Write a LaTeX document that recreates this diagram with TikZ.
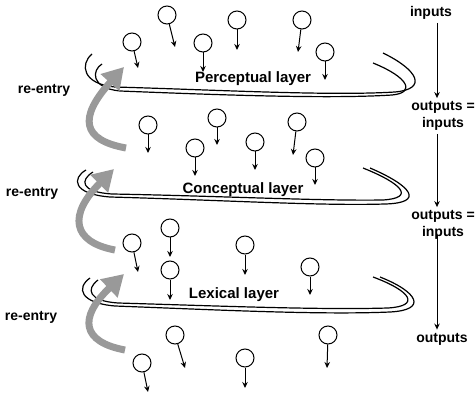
\documentclass[tikz,border=0pt]{standalone}
\usepackage{fontspec}
\setmainfont{Liberation Sans}
\usepackage{tikz}
\usetikzlibrary{arrows.meta}

\begin{document}
\begin{tikzpicture}[x=1pt,y=-1pt,thick]
	\tikzset{neuron/.style={circle, draw = black!100, fill=white, inner sep=0pt, minimum size=18pt, line width=1pt},
		fire/.style={line width=1pt, -{Stealth[length=6pt,width=5.5pt]}},
		sheet/.style={line width=1.2pt},
		reentry/.style={line width=7pt, draw=black!40, -{Triangle[length=21pt,width=24pt]}},
		lbl/.style={font=\bfseries\fontsize{14}{17}\selectfont, align=center, inner sep=3pt},
		layername/.style={font=\bfseries\fontsize{15}{18}\selectfont}}
	\useasboundingbox (0,0) rectangle (476,395);

	%---LAYERS---
	% perceptual
	\draw[sheet] (92,54) .. controls (80,64) and (82,84) .. (115,87) .. controls (220,90) and (330,96) .. (395,92) .. controls (428,89) and (418,70) .. (383,53);
	\draw[sheet] (102,64) .. controls (92,70) and (90,88) .. (120,91) .. controls (220,95) and (330,99) .. (392,95) .. controls (415,93) and (410,78) .. (373,63);
	% conceptual
	\draw[sheet] (86,170) .. controls (72,178) and (72,194) .. (110,197) .. controls (220,200) and (320,206) .. (385,204) .. controls (425,203) and (412,186) .. (370,168);
	\draw[sheet] (93,172) .. controls (80,180) and (80,192) .. (112,194) .. controls (220,196) and (320,201) .. (383,200) .. controls (415,198) and (403,184) .. (363,168);
	% lexical
	\draw[sheet] (90,278) .. controls (76,288) and (80,303) .. (115,306) .. controls (220,310) and (320,315) .. (390,312) .. controls (428,310) and (418,292) .. (380,277);
	\draw[sheet] (98,280) .. controls (86,289) and (88,301) .. (118,303) .. controls (220,306) and (320,310) .. (388,308) .. controls (421,306) and (411,291) .. (373,277);

	\node[layername] (perc) at (253,79) {Perceptual layer};
	\node[layername] (conc) at (243,190) {Conceptual layer};
	\node[layername] (lex) at (234,295) {Lexical layer};

	%---NODES---
	% above perceptual
	\node[neuron] (n1) at (167,15) {};
	\node[neuron] (n2) at (132,42) {};
	\node[neuron] (n3) at (203,43) {};
	\node[neuron] (n4) at (237,20) {};
	\node[neuron] (n5) at (302,20) {};
	\node[neuron] (n6) at (325,52) {};
	% between perceptual and conceptual
	\node[neuron] (n7) at (148,125) {};
	\node[neuron] (n8) at (217,118) {};
	\node[neuron] (n9) at (195,148) {};
	\node[neuron] (n10) at (255,142) {};
	\node[neuron] (n11) at (297,122) {};
	\node[neuron] (n12) at (315,158) {};
	% between conceptual and lexical
	\node[neuron] (n13) at (132,243) {};
	\node[neuron] (n14) at (170,228) {};
	\node[neuron] (n15) at (170,270) {};
	\node[neuron] (n16) at (245,245) {};
	\node[neuron] (n17) at (310,267) {};
	% below lexical
	\node[neuron] (n18) at (175,335) {};
	\node[neuron] (n19) at (142,363) {};
	\node[neuron] (n20) at (245,358) {};
	\node[neuron] (n21) at (328,335) {};

	\coordinate (e1) at (175,47);
	\coordinate (e2) at (138,68);
	\coordinate (e3) at (203,72);
	\coordinate (e4) at (237,50);
	\coordinate (e5) at (298,52);
	\coordinate (e6) at (325,80);
	\coordinate (e7) at (148,153);
	\coordinate (e8) at (217,145);
	\coordinate (e9) at (195,176);
	\coordinate (e10) at (255,170);
	\coordinate (e11) at (293,155);
	\coordinate (e12) at (315,185);
	\coordinate (e13) at (138,272);
	\coordinate (e14) at (170,257);
	\coordinate (e15) at (170,300);
	\coordinate (e16) at (245,275);
	\coordinate (e17) at (310,295);
	\coordinate (e18) at (185,368);
	\coordinate (e19) at (148,392);
	\coordinate (e20) at (245,388);
	\coordinate (e21) at (327,368);

	%---EDGES---
	\foreach \i in {1,...,21}
		\draw[fire] (n\i) -- (e\i);

	% re-entry arrows
	\node[lbl] (r1) at (44,90) {re-entry};
	\node[lbl] (r2) at (32,193) {re-entry};
	\node[lbl] (r3) at (31,317) {re-entry};
	\draw[reentry] (126,148) .. controls (82,140) and (78,118) .. (124,67);
	\draw[reentry] (115,250) .. controls (72,242) and (68,215) .. (114,169);
	\draw[reentry] (125,350) .. controls (82,342) and (78,318) .. (124,274);

	%---LABELS---
	\coordinate (col) at (437,0);
	\node[lbl] (in1) at (431,13) {inputs};
	\node[lbl] (out1) at (443,116) {outputs =\\inputs};
	\node[lbl] (out2) at (443,225) {outputs =\\inputs};
	\node[lbl] (out3) at (442,339) {outputs};
	\draw[fire] (in1.south -| col) -- (out1.north -| col);
	\draw[fire] (out1.south -| col) -- (out2.north -| col);
	\draw[fire] ([yshift=8pt]out2.south -| col) -- (out3.north -| col);

\end{tikzpicture}
\end{document}
